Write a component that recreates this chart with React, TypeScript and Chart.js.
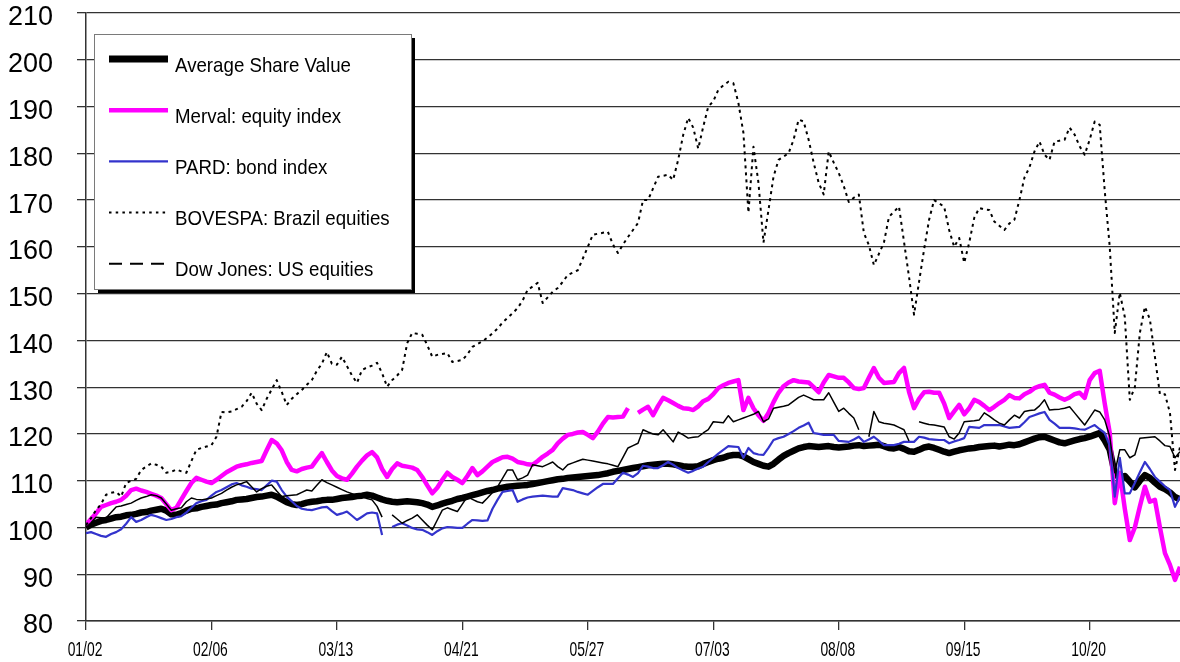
import React, { useEffect, useRef } from 'react';
import { Chart, registerables } from 'chart.js';

Chart.register(...registerables);

// x axis: trading-day index; a labelled tick every 25 trading days
const tickLabels = ['01/02', '02/06', '03/13', '04/21', '05/27', '07/03', '08/08', '09/15', '10/20'];
const tickStep = 25;

const seriesNames = [
  'Average Share Value',
  'Merval: equity index',
  'PARD: bond index',
  'BOVESPA: Brazil equities',
  'Dow Jones: US equities',
];

const averageShareValue = [
  100.0, 100.6, 101.0, 101.4, 101.6, 101.9, 102.2, 102.3, 102.6, 102.7,
  102.9, 103.2, 103.3, 103.6, 103.8, 104.0, 103.6, 102.8, 102.7, 103.1,
  103.6, 104.0, 104.1, 104.4, 104.6, 104.8, 104.9, 105.2, 105.4, 105.6,
  105.9, 106.0, 106.1, 106.3, 106.5, 106.6, 106.8, 107.0, 106.6, 106.0,
  105.4, 105.0, 104.8, 105.0, 105.3, 105.5, 105.6, 105.8, 105.9, 105.9,
  106.1, 106.3, 106.4, 106.5, 106.7, 106.8, 107.0, 106.8, 106.4, 106.0,
  105.7, 105.5, 105.4, 105.5, 105.6, 105.5, 105.4, 105.2, 104.9, 104.4,
  104.7, 105.1, 105.4, 105.7, 106.1, 106.3, 106.6, 106.9, 107.2, 107.5,
  107.8, 108.0, 108.3, 108.5, 108.7, 108.8, 108.9, 109.0, 109.1, 109.3,
  109.5, 109.7, 109.9, 110.1, 110.3, 110.4, 110.6, 110.7, 110.8, 110.9,
  111.0, 111.1, 111.2, 111.4, 111.6, 111.9, 112.1, 112.3, 112.5, 112.7,
  112.9, 113.1, 113.3, 113.4, 113.5, 113.6, 113.6, 113.5, 113.3, 113.1,
  113.0, 113.0, 113.1, 113.6, 114.0, 114.4, 114.7, 114.9, 115.3, 115.5,
  115.5, 115.2, 114.6, 114.0, 113.6, 113.2, 113.0, 113.6, 114.5, 115.3,
  115.9, 116.4, 116.9, 117.2, 117.4, 117.3, 117.2, 117.3, 117.4, 117.2,
  117.1, 117.2, 117.3, 117.5, 117.6, 117.4, 117.5, 117.6, 117.7, 117.4,
  117.0, 116.9, 117.2, 116.8, 116.3, 116.2, 116.6, 117.1, 117.3, 117.0,
  116.6, 116.2, 115.9, 116.2, 116.5, 116.7, 116.9, 117.0, 117.2, 117.3,
  117.4, 117.5, 117.3, 117.5, 117.7, 117.6, 117.8, 118.2, 118.6, 119.0,
  119.3, 119.4, 119.0, 118.6, 118.2, 118.0, 118.3, 118.6, 118.9, 119.1,
  119.4, 119.8, 120.2, 118.6, 116.6, 111.5, 110.6, 111.0, 109.8, 108.6,
  110.0, 111.2, 110.6, 109.6, 108.7, 108.2, 107.5, 106.5, 106.0,
];

const merval = [
  100.5, 101.8, 103.0, 104.4, 104.8, 105.2, 105.5, 105.9, 106.8, 108.0,
  108.3, 107.9, 107.6, 107.2, 106.8, 106.3, 105.0, 103.7, 104.2, 106.0,
  107.8, 109.5, 110.6, 110.2, 109.8, 109.5, 110.2, 111.0, 111.8, 112.4,
  113.0, 113.3, 113.5, 113.8, 114.0, 114.2, 116.5, 118.7, 118.0, 116.5,
  114.0, 112.3, 112.0, 112.5, 112.8, 113.0, 114.5, 115.9, 114.0, 112.2,
  111.0, 110.5, 110.2, 111.5, 113.0, 114.3, 115.4, 116.1, 115.0, 112.5,
  110.8, 112.5, 113.7, 113.2, 113.0, 112.8, 112.3, 110.8, 109.0, 107.3,
  108.5, 110.2, 111.7, 110.8, 110.2, 109.5, 111.0, 112.7, 111.2, 112.0,
  113.0, 114.0, 114.5, 115.0, 115.1, 114.7, 114.0, 113.8, 113.5, 113.4,
  114.2, 115.1, 115.8, 116.6, 118.0, 119.0, 119.8, 120.0, 120.3, 120.4,
  119.8, 119.1, 120.5, 122.2, 123.6, 123.5, 123.6, 123.7, 125.5, null,
  124.5, 125.2, 125.8, 124.0, 126.0, 127.7, 127.2, 126.6, 126.0, 125.5,
  125.4, 125.1, 125.9, 127.0, 127.5, 128.5, 129.8, 130.4, 130.9, 131.2,
  131.5, 125.1, 127.7, 125.5, 124.0, 122.8, 124.5, 126.8, 128.8, 130.2,
  131.0, 131.5, 131.2, 131.1, 131.0, 130.0, 128.9, 131.0, 132.6, 132.3,
  132.0, 132.0, 131.0, 129.8, 129.6, 129.8, 132.0, 134.1, 132.0, 130.9,
  131.0, 131.1, 133.0, 134.1, 129.0, 125.5, 127.5, 128.9, 129.0, 128.8,
  128.8, 126.5, 123.4, 124.8, 126.2, 124.2, 125.5, 127.3, 126.8, 126.0,
  125.1, 125.8, 126.6, 127.3, 128.3, 127.7, 127.6, 128.5, 129.0, 129.8,
  130.2, 130.5, 128.8, 128.4, 127.8, 127.3, 127.8, 128.5, 128.8, 127.7,
  131.5, 133.0, 133.5, 126.5, 120.2, 105.2, 111.7, 104.0, 97.3, 100.0,
  104.5, 108.7, 105.5, 105.9, 100.0, 94.5, 92.0, 88.8, 91.6,
];

const pard = [
  98.8, 99.0, 98.6, 98.2, 98.0, 98.6, 99.0, 99.6, 100.8, 102.2,
  101.2, 101.6, 102.2, 102.7, 102.4, 102.0, 101.6, 101.8, 102.2, 102.4,
  103.2, 104.2, 105.2, 105.6, 105.9, 106.8, 107.6, 108.0, 108.6, 109.2,
  109.5, 109.0, 108.7, 108.3, 108.2, 108.0, 109.0, 110.0, 109.8, 108.0,
  106.6, 105.6, 104.6, 104.0, 103.8, 103.7, 104.0, 104.3, 104.4, 103.5,
  102.7, 103.0, 103.4, 102.5, 101.6, 102.3, 103.0, 103.2, 103.0, 98.4,
  null, 100.1, 100.6, 100.9, 100.4, 99.9, 99.6, 99.5, 99.0, 98.4,
  99.2, 99.8, 100.1, 100.0, 99.9, 99.9, 100.8, 101.6, 101.5, 101.4,
  101.5, 104.0, 105.9, 107.6, 107.8, 108.0, 105.5, 106.0, 106.4, 106.6,
  106.7, 106.8, 106.7, 106.6, 106.6, 108.4, 108.2, 108.0, 107.6, 107.3,
  107.0, 107.8, 108.6, 109.3, 109.3, 109.3, 110.5, 111.7, 111.3, 110.8,
  111.6, 113.2, 113.0, 112.7, 112.7, 113.3, 114.0, 113.4, 112.7, 112.2,
  111.7, 112.1, 112.6, 113.0, 114.0, 114.9, 115.8, 116.6, 117.4, 117.3,
  117.2, 114.9, 117.0, 115.9, 115.6, 115.5, 117.0, 118.7, 119.1, 119.4,
  120.0, 120.6, 121.3, 121.8, 122.4, 120.2, 120.0, 119.8, 119.8, 119.8,
  118.5, 118.4, 118.3, 118.8, 119.4, 118.3, 118.8, 119.4, 118.5, 117.6,
  117.6, 117.6, 117.9, 118.3, 118.3, 118.3, 119.4, 119.2, 118.9, 118.8,
  118.7, 118.7, 118.0, 118.4, 118.7, 119.1, 121.5, 121.4, 121.3, 121.9,
  121.9, 121.9, 121.9, 121.6, 121.3, 121.4, 121.5, 122.5, 123.6, 124.0,
  124.4, 124.7, 123.0, 122.2, 121.3, 121.3, 121.3, 121.2, 121.0, 120.9,
  121.4, 121.9, 121.0, 120.2, 117.5, 106.6, 114.9, 107.3, 107.3, 109.5,
  111.8, 114.0, 112.5, 110.8, 109.8, 108.8, 108.0, 104.4, 106.6,
];

const bovespa = [
  100.5, 102.0, 103.7, 105.0, 107.0, 107.4, 107.6, 106.6, 109.5, 110.0,
  110.4, 112.3, 113.0, 113.7, 113.4, 113.0, 111.7, 111.9, 112.4, 112.0,
  111.7, 114.2, 116.6, 117.0, 117.3, 117.6, 119.4, 124.7, 124.6, 124.8,
  125.3, 125.8, 127.0, 128.8, 126.5, 125.1, 127.5, 129.5, 131.5, 129.0,
  126.2, 127.5, 128.5, 129.4, 130.5, 131.5, 133.5, 135.0, 137.5, 135.0,
  134.8, 136.5, 134.5, 132.5, 130.9, 133.7, 134.2, 134.6, 135.2, 133.0,
  130.1, 131.5, 132.5, 133.7, 139.4, 141.6, 141.4, 141.2, 139.0, 136.5,
  136.9, 137.1, 137.3, 135.4, 135.6, 135.8, 137.0, 138.6, 139.2, 139.8,
  140.6, 141.5, 142.5, 143.8, 144.8, 145.8, 146.9, 148.5, 150.8, 151.5,
  152.3, 148.0, 149.2, 150.4, 151.2, 152.5, 154.0, 154.5, 155.0, 157.5,
  160.0, 162.6, 162.8, 163.0, 163.2, 160.5, 158.7, 160.5, 162.1, 163.6,
  165.1, 170.0, 170.0, 172.5, 175.0, 175.2, 175.4, 174.3, 178.6, 183.9,
  187.6, 185.5, 181.0, 185.7, 190.0, 191.1, 193.6, 194.5, 195.3, 195.0,
  190.8, 184.4, 167.3, 181.4, 173.7, 160.9, 167.9, 175.0, 178.6, 179.3,
  180.0, 182.9, 187.2, 186.8, 182.9, 178.0, 173.7, 171.2, 180.4, 178.0,
  175.8, 173.0, 169.6, 170.5, 171.2, 163.0, 160.4, 156.1, 158.5, 160.9,
  166.4, 167.5, 168.6, 161.1, 153.6, 145.5, 152.5, 159.4, 165.8, 170.0,
  169.3, 168.6, 163.6, 160.0, 161.9, 156.6, 160.9, 166.2, 168.3, 168.0,
  167.9, 165.4, 164.5, 163.6, 165.0, 165.8, 170.0, 174.8, 177.0, 180.4,
  182.5, 179.7, 178.6, 182.5, 182.7, 182.9, 185.5, 184.0, 181.5, 179.7,
  182.9, 186.8, 186.1, 172.0, 160.0, 141.6, 150.2, 145.0, 127.3, 130.0,
  141.6, 147.2, 144.5, 136.5, 128.5, 128.5, 124.5, 112.3, 117.2,
];

const dowJones = [
  100.0, 101.0, 102.2, 102.1, 102.0, 103.2, 104.4, 104.6, 104.9, 105.2,
  105.8, 106.3, 106.6, 107.0, 106.8, 106.3, 105.0, 103.7, 104.0, 104.2,
  105.5, 106.3, 106.0, 105.9, 106.1, 106.3, 106.8, 107.3, 108.0, 108.6,
  109.1, 109.4, 109.8, 108.7, 107.6, 108.3, 108.8, 109.1, 107.8, 106.6,
  106.8, 106.9, 107.0, 107.5, 108.0, 107.8, 109.0, 110.2, 109.6, 109.1,
  108.6, 108.1, 107.6, 107.2, 106.8, 106.6, 106.2, 105.9, 104.5, 102.2,
  null, 102.7, 101.8, 100.9, 101.5, 102.0, 102.7, 101.6, 100.5, 99.5,
  101.6, 103.7, 104.2, 103.8, 103.4, 105.0, 106.6, 106.0, 105.5, 105.2,
  106.3, 107.5, 108.7, 110.5, 112.3, 112.3, 110.2, 110.6, 111.2, 113.4,
  113.2, 113.0, 113.5, 114.0, 113.0, 112.3, 113.4, 113.8, 114.2, 114.6,
  114.4, 114.2, 114.0, 113.8, 113.6, 113.3, 113.0, 115.0, 117.0, 117.5,
  118.0, 120.9, 120.4, 120.0, 119.8, 120.9, 119.6, 118.3, 120.4, 119.8,
  119.1, 119.3, 119.4, 120.2, 120.9, 122.6, 122.5, 122.4, 123.9, 122.6,
  123.0, 123.4, 123.8, 124.2, 124.8, 122.6, 123.2, 125.5, 125.7, 125.9,
  126.2, 127.0, 127.8, 128.3, 127.8, 127.3, 127.3, 127.3, 128.8, 126.8,
  124.8, 125.5, 124.4, 123.4, 120.9, null, 119.4, 124.8, 122.6, 122.3,
  122.1, 121.9, 121.4, 120.9, 118.5, null, 122.6, 122.3, 122.0, 121.9,
  121.7, 121.5, 119.4, 118.9, 120.2, 122.6, 122.7, 122.8, 123.0, 124.5,
  123.8, 123.0, 122.3, 121.9, 123.0, 124.0, 123.4, 124.8, 125.0, 125.1,
  126.0, 127.3, 125.1, 125.2, 125.3, 125.5, 125.8, 124.5, 123.2, 121.9,
  123.5, 125.1, 124.7, 123.0, 119.4, 111.7, 116.6, 116.6, 114.9, 115.5,
  119.1, 119.2, 119.3, 119.4, 118.5, 117.5, 117.3, 114.9, 116.2,
];

const seriesValues = [averageShareValue, merval, pard, bovespa, dowJones];
const seriesColors = ['#000000', '#FF00FF', '#3333CC', '#000000', '#000000'];
const seriesWidths = [6.5, 4.5, 2.2, 2, 1.5];
const seriesDashes: number[][] = [[], [], [], [3, 4], []];
const legendWidths = [7, 4.5, 2.2, 2, 2];
const legendDashes: number[][] = [[], [], [], [2.5, 4.2], [13, 8]];

const FONT = '"Liberation Sans", Arial, Helvetica, sans-serif';

const boxLegendPlugin = {
  id: 'boxLegend',
  afterDraw(chart: any) {
    const ctx = chart.ctx as CanvasRenderingContext2D;
    ctx.save();
    const x0 = 94, y0 = 34, w = 317, h = 255;
    ctx.fillStyle = '#000';
    ctx.fillRect(x0 + 4, y0 + 4, w, h);
    ctx.fillStyle = '#fff';
    ctx.fillRect(x0, y0, w, h);
    ctx.strokeStyle = '#7a7a7a';
    ctx.lineWidth = 1;
    ctx.strokeRect(x0 + 0.5, y0 + 0.5, w, h);
    seriesNames.forEach((name, i) => {
      const ly = 59 + i * 51.2;
      ctx.beginPath();
      ctx.strokeStyle = seriesColors[i];
      ctx.lineWidth = legendWidths[i];
      ctx.setLineDash(legendDashes[i]);
      ctx.moveTo(109, ly);
      ctx.lineTo(168, ly);
      ctx.stroke();
      ctx.setLineDash([]);
      ctx.save();
      ctx.translate(175, ly + 12.5);
      ctx.scale(0.89, 1);
      ctx.fillStyle = '#000';
      ctx.font = `21px ${FONT}`;
      ctx.textAlign = 'left';
      ctx.textBaseline = 'alphabetic';
      ctx.fillText(name, 0, 0);
      ctx.restore();
    });
    // x-axis labels, condensed, positioned via the x scale
    const xs = chart.scales.x;
    tickLabels.forEach((t, k) => {
      const px = xs.getPixelForValue(k * tickStep);
      ctx.save();
      ctx.translate(px - 1, 650);
      ctx.scale(0.66, 1);
      ctx.fillStyle = '#000';
      ctx.font = `21px ${FONT}`;
      ctx.textAlign = 'center';
      ctx.textBaseline = 'middle';
      ctx.fillText(t, 0, 0);
      ctx.restore();
    });
    ctx.restore();
  },
};

export default function App() {
  const canvasRef = useRef<HTMLCanvasElement | null>(null);

  useEffect(() => {
    document.body.style.margin = '0';
    const canvas = canvasRef.current;
    if (!canvas) return;

    const datasets = seriesNames.map((name, i) => ({
      label: name,
      data: seriesValues[i].map((v, idx) => ({ x: idx, y: v })),
      borderColor: seriesColors[i],
      backgroundColor: seriesColors[i],
      borderWidth: seriesWidths[i],
      borderDash: seriesDashes[i],
      pointRadius: 0,
      pointHoverRadius: 0,
      tension: 0,
      spanGaps: false,
      fill: false,
      order: 5 - i,
      borderJoinStyle: 'round' as const,
    }));

    const zeroPad = (scale: any) => {
      scale.paddingTop = 0;
      scale.paddingBottom = 0;
      scale.paddingLeft = 0;
      scale.paddingRight = 0;
    };

    const chart = new Chart(canvas, {
      type: 'line',
      data: { datasets },
      options: {
        animation: false,
        responsive: false,
        devicePixelRatio: 1,
        layout: { padding: { top: 13, right: 0, bottom: 0, left: 0 } },
        plugins: {
          legend: { display: false },
          tooltip: { enabled: false },
        },
        scales: {
          x: {
            type: 'linear',
            min: 0,
            max: seriesValues[0].length - 1,
            ticks: {
              stepSize: tickStep,
              includeBounds: false,
              display: false,
            },
            grid: {
              drawOnChartArea: false,
              drawTicks: true,
              tickLength: 9,
              color: '#333',
              lineWidth: 1.3,
            },
            border: { display: true, color: '#333', width: 1.5 },
            afterFit: (scale: any) => {
              scale.height = 41;
              zeroPad(scale);
            },
          },
          y: {
            min: 80,
            max: 210,
            ticks: {
              stepSize: 10,
              padding: 24,
              labelOffset: 5,
              color: '#000',
              font: { family: FONT, size: 27 },
            },
            grid: {
              color: '#333',
              lineWidth: 1.3,
              tickLength: 9,
            },
            border: { display: true, color: '#333', width: 1.5 },
            afterFit: (scale: any) => {
              scale.width = 86;
              zeroPad(scale);
            },
          },
        },
      },
      plugins: [boxLegendPlugin],
    });

    return () => chart.destroy();
  }, []);

  return (
    <div style={{ width: 1180, height: 662, background: '#fff' }}>
      <canvas ref={canvasRef} width={1180} height={662} style={{ display: 'block' }} />
    </div>
  );
}
